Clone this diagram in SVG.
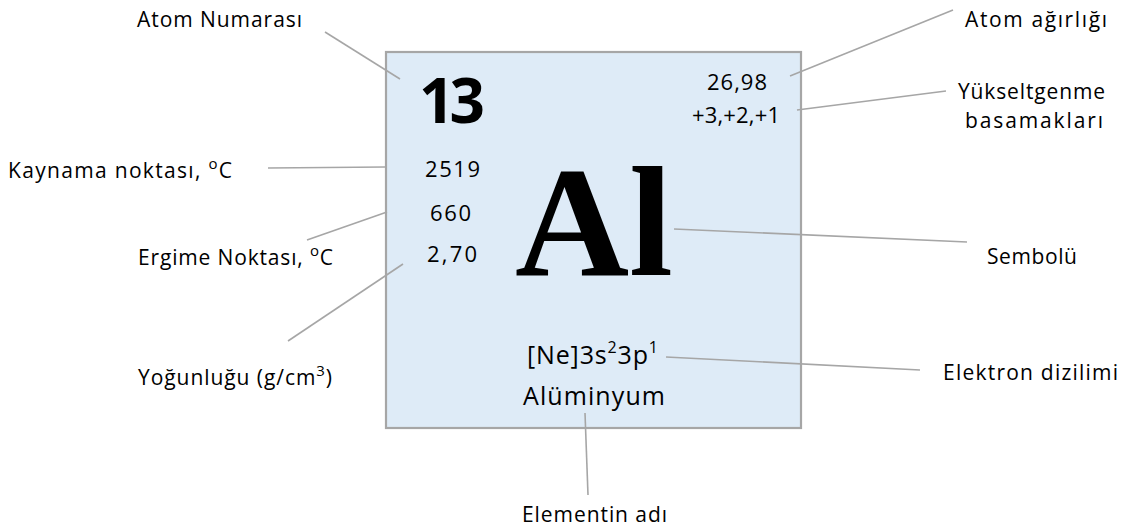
<svg xmlns="http://www.w3.org/2000/svg" width="1126" height="530" viewBox="0 0 1126 530">
<style>
.lbl{font-family:"Open Sans","Noto Sans",sans-serif;font-size:21px;fill:#000}
.val{font-family:"Open Sans","Noto Sans",sans-serif;font-size:22px;fill:#000}
.big{font-family:"Open Sans","Noto Sans",sans-serif;font-size:25px;fill:#000}
.num{font-family:"Open Sans","Noto Sans",sans-serif;font-size:62px;font-weight:bold;fill:#000}
.sym{font-family:"Liberation Serif","DejaVu Serif",serif;font-size:157px;font-weight:bold;fill:#000}
.conn line{stroke:#a6a6a6;stroke-width:1.6;fill:none}
</style>
<rect width="1126" height="530" fill="#ffffff"/>
<g id="element-box">
<rect x="386" y="52" width="415" height="376" fill="#deebf7" stroke="#a6a6a6" stroke-width="2.2"/>
<text class="num" x="419" y="123" textLength="66">13</text>
<text class="val" x="707" y="90" textLength="60">26,98</text>
<text class="val" x="692" y="123" textLength="88">+3,+2,+1</text>
<text class="val" x="425" y="177" textLength="55">2519</text>
<text class="val" x="430" y="221" textLength="41">660</text>
<text class="val" x="427" y="262" textLength="50">2,70</text>
<text class="sym" x="515" y="275" textLength="158" lengthAdjust="spacingAndGlyphs">Al</text>
<text class="big" x="527" y="364" textLength="131">[Ne]3s<tspan font-size="16" dy="-11">2</tspan><tspan dy="11">3p</tspan><tspan font-size="16" dy="-11">1</tspan></text>
<text class="big" x="523" y="405" textLength="142">Alüminyum</text>
</g>
<g id="label-atom-numarasi"><text class="lbl" x="137" y="27" textLength="165">Atom Numarası</text></g>
<g id="label-kaynama"><text class="lbl" x="8" y="178" textLength="224">Kaynama noktası, <tspan font-size="15" dy="-9">o</tspan><tspan dy="9">C</tspan></text></g>
<g id="label-ergime"><text class="lbl" x="138" y="265" textLength="195">Ergime Noktası, <tspan font-size="15" dy="-9">o</tspan><tspan dy="9">C</tspan></text></g>
<g id="label-yogunlugu"><text class="lbl" x="138" y="385" textLength="194">Yoğunluğu (g/cm<tspan font-size="15" dy="-9">3</tspan><tspan dy="9">)</tspan></text></g>
<g id="label-atom-agirligi"><text class="lbl" x="965" y="27" textLength="142">Atom ağırlığı</text></g>
<g id="label-yukseltgenme"><text class="lbl" x="958" y="99" textLength="147">Yükseltgenme</text><text class="lbl" x="965" y="128" textLength="138">basamakları</text></g>
<g id="label-sembolu"><text class="lbl" x="987" y="264" textLength="90">Sembolü</text></g>
<g id="label-elektron"><text class="lbl" x="943" y="380" textLength="175">Elektron dizilimi</text></g>
<g id="label-elementin-adi"><text class="lbl" x="522" y="522" textLength="145">Elementin adı</text></g>
<g id="connectors" class="conn">
<line x1="325" y1="32" x2="400" y2="79"/>
<line x1="268" y1="168" x2="385" y2="167"/>
<line x1="307" y1="240" x2="387" y2="212"/>
<line x1="288" y1="341" x2="403" y2="264"/>
<line x1="953" y1="10" x2="790" y2="76"/>
<line x1="946" y1="91" x2="797" y2="110"/>
<line x1="674" y1="229" x2="967" y2="242"/>
<line x1="666" y1="357" x2="920" y2="370"/>
<line x1="585" y1="413" x2="588" y2="495"/>
</g>
</svg>
